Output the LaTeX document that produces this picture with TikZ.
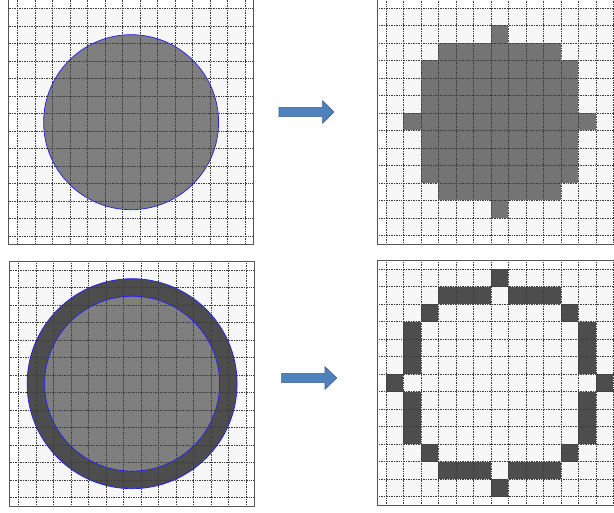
\documentclass[tikz,border=0pt]{standalone}
\usepackage{tikz}
\usetikzlibrary{calc}
\definecolor{cellgray}{RGB}{247,247,247}
\definecolor{gridgray}{RGB}{60,60,60}
\definecolor{framegray}{RGB}{85,85,85}
\definecolor{discgray}{RGB}{127,127,127}
\definecolor{ringgray}{RGB}{77,77,77}
\definecolor{pixelgray}{RGB}{116,116,116}
\definecolor{outlineblue}{RGB}{30,30,240}
\definecolor{arrowblue}{RGB}{79,129,189}
\definecolor{arrowedge}{RGB}{56,93,138}

% 14x14 cells, grid lines half a cell inside the frame
\newcommand{\cellgrid}{%
  \foreach \k in {0,...,13} {
    \draw[gridline] (\k+0.5,0) -- (\k+0.5,14);
    \draw[gridline] (0,\k+0.5) -- (14,\k+0.5);
  }
  \draw[frame] (0,0) rectangle (14,14);
}

\begin{document}
\begin{tikzpicture}[x=0.5mm, y=-0.5mm,
    frame/.style={draw=framegray, line width=1pt},
    gridline/.style={draw=gridgray, line width=0.6pt, dash pattern=on 1.2pt off 1.2pt},
    cellfill/.style={fill=cellgray},
    disc/.style={fill=discgray},
    outline/.style={draw=outlineblue, line width=1pt},
    pixel/.style={fill=#1},
    blockarrow/.style={fill=arrowblue, draw=arrowedge, line width=0.8pt}]
  \useasboundingbox (0,0) rectangle (614,513);
  \clip (0,0) rectangle (614,513);

  % top left: disc over the grid
  \begin{scope}[shift={(8.6,-0.3)}, scale=17.5]
    \fill[cellfill] (0.5,0.5) rectangle (13.5,13.5);
    \fill[disc] (7,7) circle[radius=5];
    \cellgrid
    \draw[outline] (7,7) circle[radius=5];
  \end{scope}

  % top right: cells whose centre lies in the disc
  \begin{scope}[shift={(377.2,-0.9)}, scale=17.5]
    \fill[cellfill] (0.5,0.5) rectangle (13.5,13.5);
    \foreach \i in {0,...,12}
      \foreach \j in {0,...,12} {
        \pgfmathtruncatemacro\dd{(\i-6)*(\i-6)+(\j-6)*(\j-6)}
        \ifnum\dd<26 \fill[pixel=pixelgray] (\i+0.5,\j+0.5) rectangle ++(1,1); \fi
      }
    \cellgrid
  \end{scope}

  % bottom left: ring between two circles
  \begin{scope}[shift={(9.6,261.2)}, scale=17.5]
    \fill[cellfill] (0.5,0.5) rectangle (13.5,13.5);
    \fill[pixel=ringgray] (7,7) circle[radius=6];
    \fill[disc] (7,7) circle[radius=5];
    \cellgrid
    \draw[outline] (7,7) circle[radius=6];
    \draw[outline] (7,7) circle[radius=5];
  \end{scope}

  % bottom right: cells whose centre lies in the ring
  \begin{scope}[shift={(377.2,260.3)}, scale=17.5]
    \fill[cellfill] (0.5,0.5) rectangle (13.5,13.5);
    \foreach \i in {0,...,12}
      \foreach \j in {0,...,12} {
        \pgfmathtruncatemacro\dd{(\i-6)*(\i-6)+(\j-6)*(\j-6)}
        \ifnum\dd>25 \ifnum\dd<37
          \fill[pixel=ringgray] (\i+0.5,\j+0.5) rectangle ++(1,1);
        \fi\fi
      }
    \cellgrid
  \end{scope}

  % arrows
  \coordinate (toptail) at (279,107.3);
  \coordinate (bottail) at (281.7,373.3);
  \draw[blockarrow] (toptail) -- ++(43.7,0) -- ++(0,-6.6) -- ++(11.3,11.3)
    -- ++(-11.3,11.3) -- ++(0,-6.6) -- ++(-43.7,0) -- cycle;
  \draw[blockarrow] (bottail) -- ++(43.3,0) -- ++(0,-6.6) -- ++(11.7,11.3)
    -- ++(-11.7,11.3) -- ++(0,-6.6) -- ++(-43.3,0) -- cycle;
\end{tikzpicture}
\end{document}
